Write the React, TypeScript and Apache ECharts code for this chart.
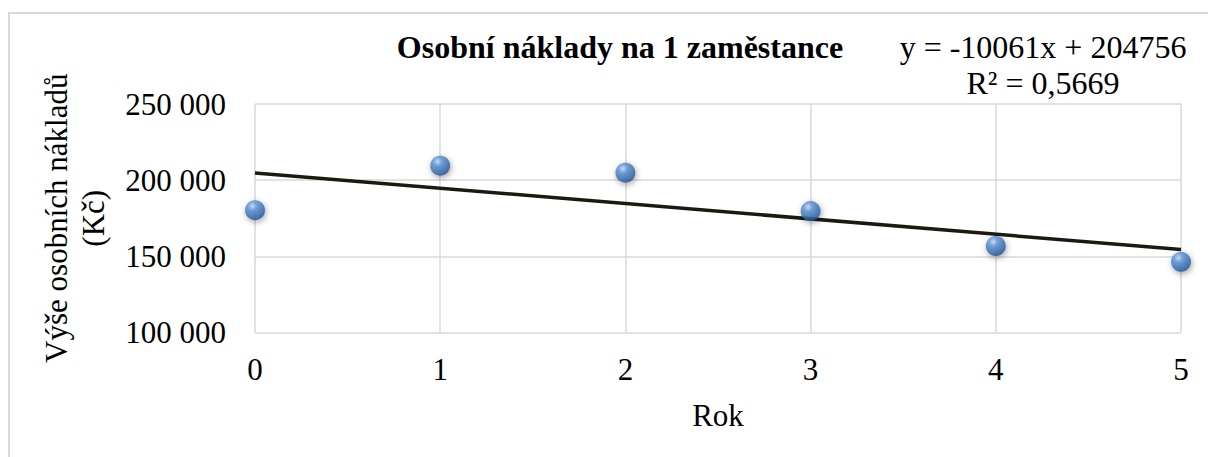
import React, { useEffect, useRef } from "react";
import * as echarts from "echarts";

const years = [0, 1, 2, 3, 4, 5];
const costs = [180300, 209500, 204900, 179700, 156800, 146400];
const trendSlope = -10061;
const trendIntercept = 204756;
const rSquared = "0,5669";
const yTicks = { min: 100000, max: 250000, interval: 50000 };
const xTicks = { min: 0, max: 5, interval: 1 };

const FONT = "Liberation Serif, Times New Roman, serif";

const fmt = (v: number) => String(v).replace(/\B(?=(\d{3})+(?!\d))/g, " ");

export default function App() {
  const ref = useRef<HTMLDivElement>(null);
  useEffect(() => {
    if (!ref.current) return;
    const chart = echarts.init(ref.current, undefined, { renderer: "svg" });
    const trend = [xTicks.min, xTicks.max].map((x) => [x, trendSlope * x + trendIntercept]);
    const sphere = new echarts.graphic.RadialGradient(0.38, 0.3, 0.75, [
      { offset: 0, color: "#c2dcf8" },
      { offset: 0.3, color: "#5b93d6" },
      { offset: 0.8, color: "#2c62a6" },
      { offset: 1, color: "#1d4b87" },
    ]);
    chart.setOption({
      animation: false,
      backgroundColor: "#ffffff",
      title: {
        text: "Osobní náklady na 1 zaměstance",
        left: 620,
        top: 31,
        textAlign: "center",
        padding: 0,
        textStyle: { fontFamily: FONT, fontSize: 32, fontWeight: "bold", color: "#000" },
      },
      grid: { left: 255, right: 27, top: 104, bottom: 124.5 },
      xAxis: {
        type: "value",
        min: xTicks.min,
        max: xTicks.max,
        interval: xTicks.interval,
        name: "Rok",
        nameLocation: "middle",
        nameGap: 67,
        nameTextStyle: { fontFamily: FONT, fontSize: 31, color: "#000" },
        axisLine: { show: false },
        axisTick: { show: false },
        axisLabel: { fontFamily: FONT, fontSize: 31, color: "#000", margin: 21 },
        splitLine: { show: true, lineStyle: { color: "#d9d9d9", width: 1.5 } },
      },
      yAxis: {
        type: "value",
        min: yTicks.min,
        max: yTicks.max,
        interval: yTicks.interval,
        name: "Výše osobních nákladů\n(Kč)",
        nameLocation: "middle",
        nameGap: 143,
        nameTextStyle: { fontFamily: FONT, fontSize: 31, color: "#000", lineHeight: 37 },
        axisLine: { show: false },
        axisTick: { show: false },
        axisLabel: { fontFamily: FONT, fontSize: 31, color: "#000", margin: 29, formatter: (v: number) => fmt(v) },
        splitLine: { show: true, lineStyle: { color: "#d9d9d9", width: 1.5 } },
      },
      series: [
        {
          type: "line",
          data: trend,
          symbol: "none",
          lineStyle: { color: "#1c1a10", width: 3.5 },
          z: 2,
        },
        {
          type: "scatter",
          data: years.map((x, i) => [x, costs[i]]),
          symbol: "circle",
          symbolSize: 20,
          itemStyle: {
            color: sphere,
            shadowBlur: 6,
            shadowColor: "rgba(0,0,0,0.45)",
            shadowOffsetX: 1,
            shadowOffsetY: 2,
          },
          z: 3,
        },
      ],
      graphic: [
        {
          type: "rect",
          shape: { x: 9, y: 13, width: 1300, height: 600 },
          style: { fill: "none", stroke: "#d9d9d9", lineWidth: 2 },
          silent: true,
          z: -1,
        },
        {
          type: "text",
          x: 1043,
          y: 65,
          style: {
            text: `y = ${trendSlope}x + ${trendIntercept}\nR² = ${rSquared}`,
            fontFamily: FONT,
            fontSize: 32,
            lineHeight: 36,
            fill: "#000",
            align: "center",
            verticalAlign: "middle",
          },
        },
      ],
    });
    return () => chart.dispose();
  }, []);
  return (
    <div
      ref={ref}
      style={{ position: "absolute", left: 0, top: 0, width: 1208, height: 457 }}
    />
  );
}
